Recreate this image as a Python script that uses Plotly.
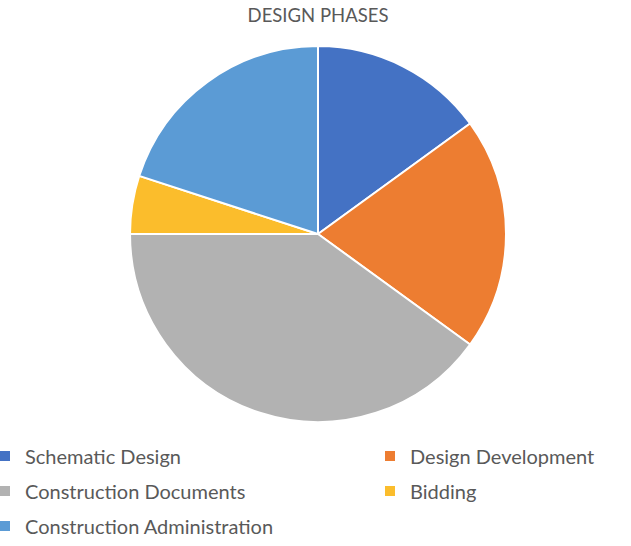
import plotly.graph_objects as go

phases = ["Schematic Design", "Design Development", "Construction Documents", "Bidding", "Construction Administration"]
shares = [15, 20, 40, 5, 20]
colors = ["#4472C4", "#ED7D31", "#B2B2B2", "#FBBD2C", "#5B9BD5"]
legend_column = ["legend", "legend2", "legend", "legend2", "legend"]

W, H = 631, 546

fig = go.Figure()
fig.add_trace(go.Pie(
    labels=phases, values=shares, sort=False, direction="clockwise", rotation=0,
    marker=dict(colors=colors, line=dict(color="white", width=2)),
    textinfo="none", hoverinfo="label+percent", showlegend=False,
    domain=dict(x=[130/W, 506/W], y=[1-422/H, 1-46/H]),
))
# legend entries (one per phase) laid out in two columns
for name, col, lg in zip(phases, colors, legend_column):
    fig.add_trace(go.Scatter(
        x=[None], y=[None], mode="markers", name=name, legend=lg, legendgroup=name,
        marker=dict(symbol="square", size=10, color=col), hoverinfo="skip",
    ))

leg_font = dict(size=20, color="#595959", family="Lato, 'Open Sans', sans-serif")
leg_y = 1 - 436.5/H
fig.update_layout(
    width=W, height=H, margin=dict(l=0, r=0, t=0, b=0, autoexpand=False),
    paper_bgcolor="white", plot_bgcolor="white",
    font=dict(family="Lato, 'Open Sans', sans-serif", color="#595959"),
    xaxis=dict(visible=False), yaxis=dict(visible=False),
    title=dict(text="DESIGN PHASES", x=318/W, xanchor="center", y=1-16/H, yanchor="middle",
               font=dict(size=18.5, color="#595959")),
    legend=dict(x=-15/W, xanchor="left", y=leg_y, yanchor="top",
                font=leg_font, traceorder="grouped", tracegroupgap=6, bgcolor="rgba(0,0,0,0)"),
    legend2=dict(x=370/W, xanchor="left", y=leg_y, yanchor="top",
                 font=leg_font, traceorder="grouped", tracegroupgap=6, bgcolor="rgba(0,0,0,0)"),
)
fig.write_html("out.html", config={"displayModeBar": False},
               post_script="document.body.style.margin='0px';")
